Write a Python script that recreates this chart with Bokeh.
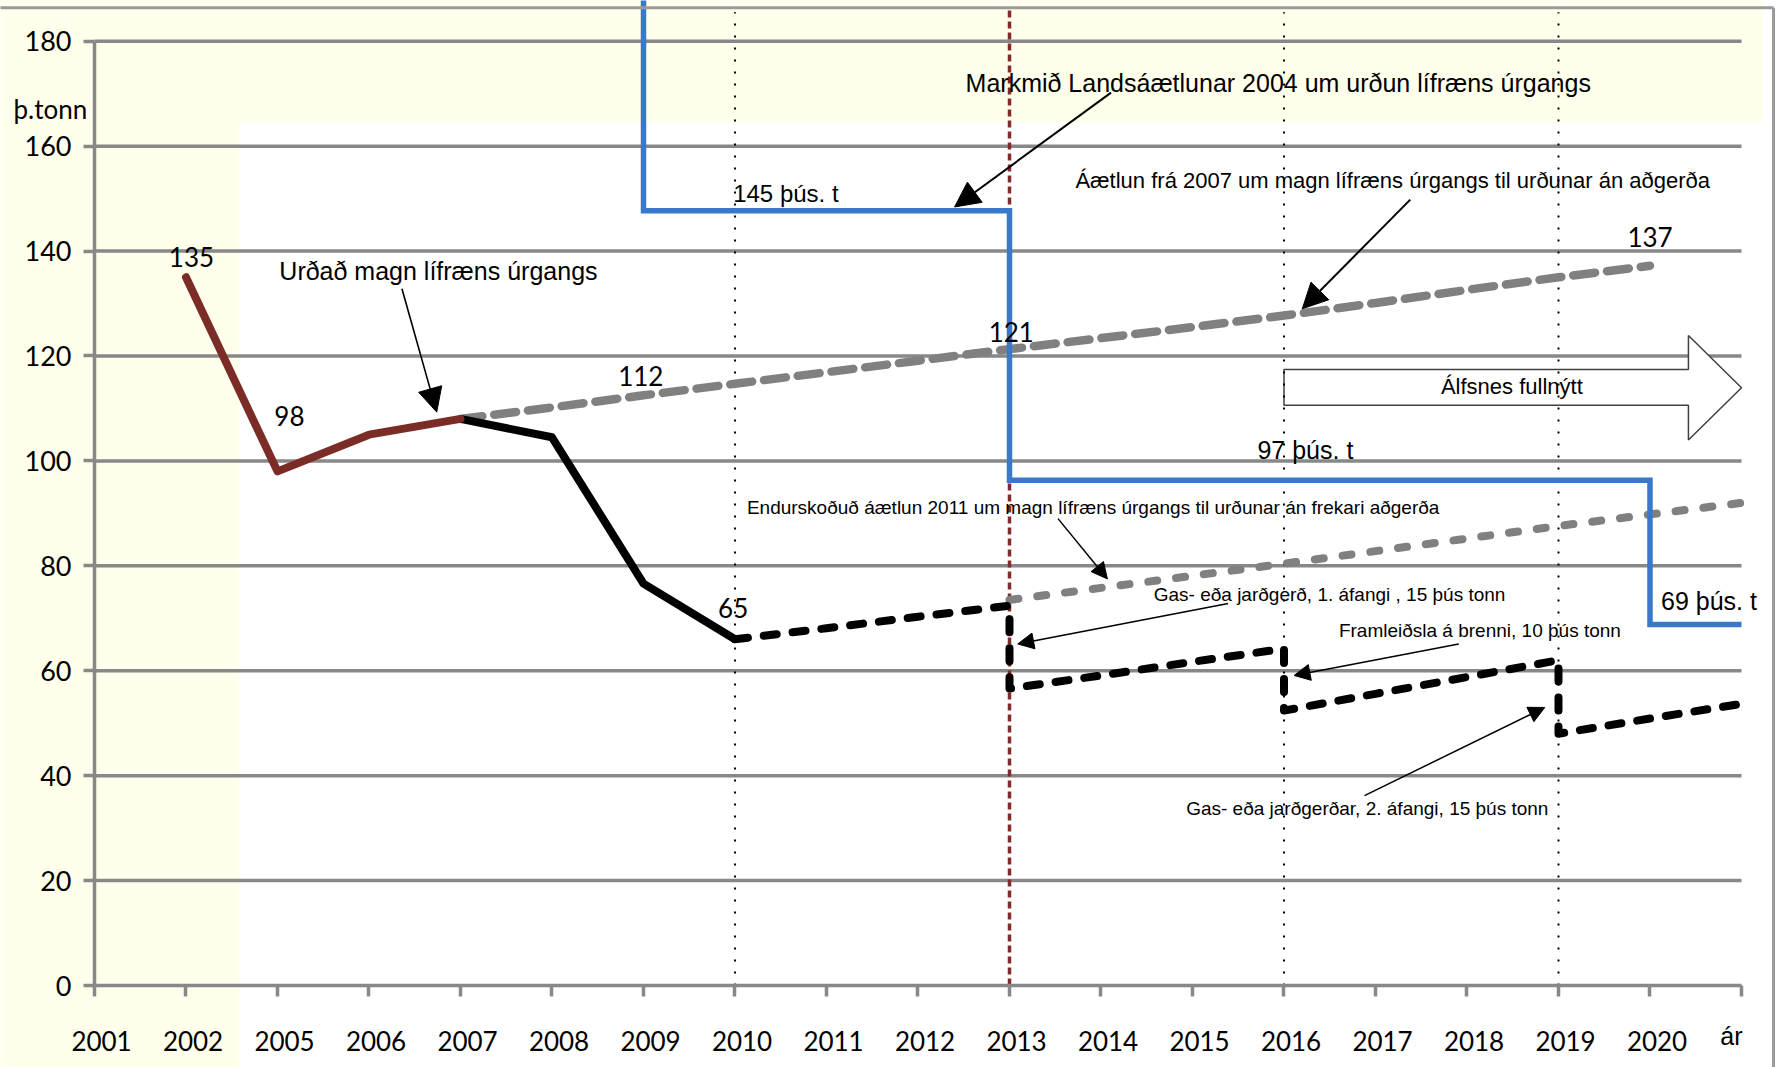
from bokeh.plotting import figure
from bokeh.models import Range1d, FixedTicker, Label, Arrow, NormalHead, LinearAxis
from bokeh.embed import file_html
from bokeh.resources import INLINE

# ---------------- data ----------------
categories = ["2001", "2002", "2005", "2006", "2007", "2008", "2009", "2010", "2011",
              "2012", "2013", "2014", "2015", "2016", "2017", "2018", "2019", "2020", "ár"]
y_ticks = [0, 20, 40, 60, 80, 100, 120, 140, 160, 180]

landfilled_early_years = ["2002", "2005", "2006", "2007"]
landfilled_early_values = [135, 98, 105, 108]

landfilled_recent_years = ["2007", "2008", "2009", "2010"]
landfilled_recent_values = [108, 104.5, 76.6, 66]

plan2007_years = ["2007", "2008", "2009", "2010", "2011", "2012", "2013", "2014",
                  "2015", "2016", "2017", "2018", "2019", "2020"]
plan2007_values = [108, 110.2, 112.5, 114.7, 116.9, 119.1, 121.3, 123.4,
                   125.5, 127.7, 130.1, 132.6, 135.0, 137.2]

plan2011_years = ["2013", "2014", "2015", "2016", "2017", "2018", "2019", "2020", "ár"]
plan2011_values = [73.5, 75.8, 78.1, 80.4, 82.8, 85.2, 87.6, 89.8, 92.0]

measures_years = ["2010", "2011", "2012", "2013", "2013", "2014", "2015", "2016", "2016",
                  "2017", "2018", "2019", "2019", "2020", "ár"]
measures_values = [66, 68.1, 70.3, 72.4, 56.6, 59.1, 61.7, 64.2, 52.4,
                   55.6, 58.8, 62.0, 48.0, 50.9, 53.7]

target_years = ["2009", "2009", "2013", "2013", "2020", "2020", "ár"]
target_values = [190, 147.7, 147.7, 96.3, 96.3, 68.8, 68.8]

guide_years = ["2010", "2016", "2019"]
current_year = "2013"

# ---------------- helpers ----------------
pos = {c: i for i, c in enumerate(categories)}
def xs(years):
    return [pos[y] for y in years]

YELLOW = "#FFFFEB"
GRID = "#888888"
BORDER = "#9A9A9A"
BLUE = "#3A78CC"
BROWN = "#7B2C27"
GRAY = "#808080"
MAROON = "#852A2A"
ARIAL = "Liberation Sans"
CALIBRI = "Lato"

PX_PER_UNIT = 5.246   # vertical pixels per data unit
TOP_LINE = 186.4      # slide border at the top
RIGHT_LINE = 18.35    # slide border at the right
GUIDE_TOP = 185.5
LABEL_SHIFT = 0.077   # x tick labels sit slightly right of their tick

p = figure(width=1778, height=1067, title=None,
           x_range=Range1d(-1.0273, 18.4044), y_range=Range1d(-15.63, 187.76),
           output_backend="svg", toolbar_location=None,
           min_border_left=0, min_border_right=0, min_border_top=0, min_border_bottom=0)
p.background_fill_color = "white"
p.border_fill_color = "white"
p.outline_line_color = None
p.xgrid.visible = False
p.ygrid.visible = False

# slide background bands
p.quad(left=[-1.2], right=[1.585], bottom=[-20], top=[190], fill_color=YELLOW, line_color=None)
p.quad(left=[1.585], right=[18.23], bottom=[164.5], top=[190], fill_color=YELLOW, line_color=None)

# axes (placed at fixed data locations)
last = len(categories) - 1
xa = p.xaxis[0]
xa.fixed_location = 0
xa.ticker = FixedTicker(ticks=list(range(len(categories))))
xa.major_label_text_font_size = "0px"
xa.major_label_text_alpha = 0
xa.bounds = (0, last)
ya = p.yaxis[0]
ya.fixed_location = 0
ya.ticker = FixedTicker(ticks=y_ticks)
ya.bounds = (y_ticks[0], y_ticks[-1])
for ax in (xa, ya):
    ax.axis_line_color = GRID
    ax.axis_line_width = 3.5
    ax.major_tick_line_color = GRID
    ax.major_tick_line_width = 3.5
    ax.major_tick_in = 0
    ax.major_tick_out = 11
    ax.minor_tick_line_color = None
ya.major_label_text_font = CALIBRI
ya.major_label_text_font_size = "27px"
ya.major_label_text_color = "black"
ya.major_label_standoff = 12

# second x axis carrying only the year labels (slightly right of the ticks)
label_ticks = [i + LABEL_SHIFT for i in range(last)]
xl = LinearAxis(fixed_location=0, ticker=FixedTicker(ticks=label_ticks),
                major_label_overrides={t: categories[i] for i, t in enumerate(label_ticks)},
                axis_line_color=None, major_tick_line_color=None, minor_tick_line_color=None,
                major_tick_in=0, major_tick_out=11,
                major_label_text_font=CALIBRI, major_label_text_font_size="26px",
                major_label_text_color="black", major_label_standoff=34)
p.add_layout(xl, "below")

# horizontal gridlines
p.segment(x0=[0] * (len(y_ticks) - 1), y0=y_ticks[1:], x1=[last] * (len(y_ticks) - 1),
          y1=y_ticks[1:], line_color=GRID, line_width=3.5)

# Álfsnes block arrow
p.patch([13, 17.42, 17.42, 18.0, 17.42, 17.42, 13],
        [117.4, 117.4, 123.9, 113.95, 104.0, 110.6, 110.6],
        fill_color="white", line_color="#404040", line_width=1.5)

# vertical guides
gx = xs(guide_years)
p.segment(x0=gx, y0=[0] * len(gx), x1=gx, y1=[GUIDE_TOP] * len(gx),
          line_color="black", line_width=2, line_dash="2 10")
p.segment(x0=[pos[current_year]], y0=[0], x1=[pos[current_year]], y1=[TOP_LINE],
          line_color=MAROON, line_width=3.5, line_dash="7 4")

# series
p.line(xs(plan2007_years), plan2007_values, line_color=GRAY, line_width=8.5,
       line_dash="22 12", line_cap="round")
p.line(xs(plan2011_years), plan2011_values, line_color=GRAY, line_width=8,
       line_dash="9 19", line_cap="round")
p.line(xs(measures_years), measures_values, line_color="black", line_width=8,
       line_dash="13 16", line_cap="round", line_join="round")
p.line(xs(landfilled_recent_years), landfilled_recent_values, line_color="black",
       line_width=8, line_join="round")
p.line(xs(landfilled_early_years), landfilled_early_values, line_color=BROWN,
       line_width=8, line_join="round", line_cap="round")
p.line(xs(target_years), target_values, line_color=BLUE, line_width=5.5, line_join="miter")

# slide border lines (top and right)
p.segment(x0=[-1.2, RIGHT_LINE], y0=[TOP_LINE, TOP_LINE], x1=[RIGHT_LINE, RIGHT_LINE],
          y1=[TOP_LINE, -20], line_color=BORDER, line_width=3)

# arrows
def arrow(x0, y0, x1, y1, size, w):
    p.add_layout(Arrow(end=NormalHead(size=size, fill_color="black", line_color="black"),
                       x_start=x0, y_start=y0, x_end=x1, y_end=y1,
                       line_color="black", line_width=w))

arrow(11.11, 170.2, 9.40, 148.4, 25, 2)
arrow(3.36, 132.8, 3.74, 109.3, 24, 1.6)
arrow(14.38, 149.8, 13.2, 129.0, 25, 2)
arrow(10.53, 89.0, 11.07, 77.5, 16, 1.5)
arrow(12.39, 72.8, 10.09, 65.1, 16, 1.5)
arrow(14.91, 65.1, 13.11, 59.1, 16, 1.5)
arrow(13.88, 36.2, 15.85, 53.0, 16, 1.5)

# texts (y given as the glyph baseline; small correction for the renderer's baseline)
def label(text, x, y, font, size, align="left", baseline="alphabetic"):
    fs = float(size.replace("px", ""))
    if baseline == "alphabetic":
        y = y + 0.31 * fs / PX_PER_UNIT
    p.add_layout(Label(x=x, y=y, text=text, text_font=font, text_font_size=size,
                       text_align=align, text_baseline=baseline, text_color="black"))

label(categories[-1], 17.89, -11.1, ARIAL, "25px", "center")

label("þ.tonn", -0.483, 165.5, CALIBRI, "26px", "center")
label("135", 1.06, 137.3, CALIBRI, "26px", "center")
label("98", 2.13, 107.1, CALIBRI, "26px", "center")
label("112", 5.97, 114.7, CALIBRI, "26px", "center")
label("121", 10.02, 123.1, CALIBRI, "26px", "center")
label("137", 17.0, 141.1, CALIBRI, "26px", "center")
label("65", 6.98, 70.5, CALIBRI, "26px", "center")

label("Markmið Landsáætlunar 2004 um urðun lífræns úrgangs", 9.52, 170.6, ARIAL, "25px")
label("145 þús. t", 6.98, 149.6, ARIAL, "24px")
label("Áætlun frá 2007 um magn lífræns úrgangs til urðunar án aðgerða", 10.72, 152.2, ARIAL, "22px")
label("Urðað magn lífræns úrgangs", 2.02, 134.7, ARIAL, "25px")
label("Endurskoðuð áætlun 2011 um magn lífræns úrgangs til urðunar án frekari aðgerða",
      7.13, 90.0, ARIAL, "19px")
label("Gas- eða jarðgerð, 1. áfangi , 15 þús tonn", 15.42, 73.4, ARIAL, "19px", "right")
label("Framleiðsla á brenni, 10 þús tonn", 13.6, 66.5, ARIAL, "19px")
label("Gas- eða jarðgerðar, 2. áfangi, 15 þús tonn", 15.89, 32.7, ARIAL, "19px", "right")
label("Álfsnes fullnýtt", 15.49, 114.2, ARIAL, "22px", "center", "middle")
label("97 þús. t", 12.71, 100.6, ARIAL, "25px")
label("69 þús. t", 17.12, 71.8, ARIAL, "25px")

open("out.html", "w").write(file_html(p, INLINE))
